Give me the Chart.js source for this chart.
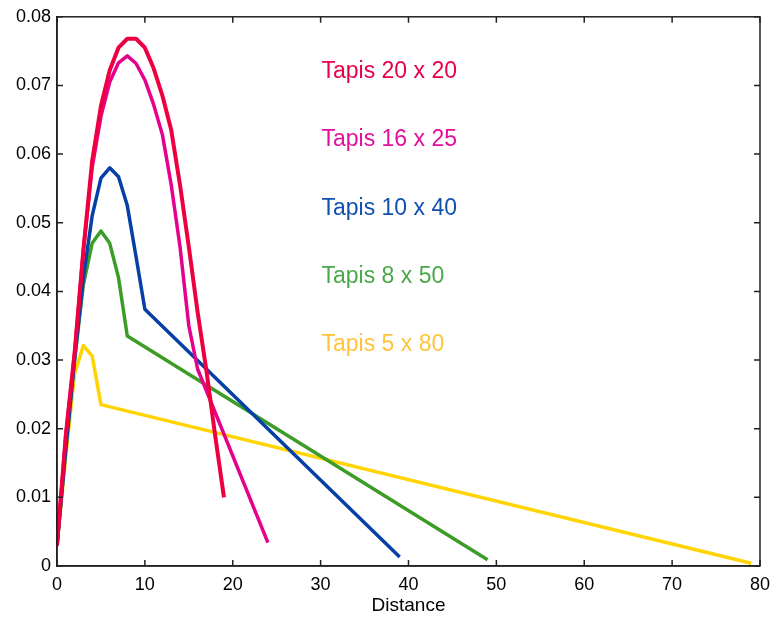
<!DOCTYPE html>
<html>
<head>
<meta charset="utf-8">
<title>Tapis - Distance</title>
<script src="https://cdn.jsdelivr.net/npm/chart.js@4.4.0/dist/chart.umd.min.js"></script>
<style>
    html, body { margin: 0; padding: 0; background: #fff; }
    #wrap { width: 778px; height: 617px; }
</style>
</head>
<body>
<div id="wrap"><canvas id="distanceChart" width="778" height="617"></canvas></div>
<script>
// Series names, drawn as coloured labels inside the plot
const seriesNames = ['Tapis 20 x 20', 'Tapis 16 x 25', 'Tapis 10 x 40', 'Tapis 8 x 50', 'Tapis 5 x 80'];

// Tapis 20 x 20
const dist20x20 = [0, 1, 2, 3, 4, 5, 6, 7, 8, 9, 10, 11, 12, 13, 14, 15, 16, 17, 18, 19];
const val20x20 = [0.003, 0.019, 0.031, 0.046, 0.059, 0.067, 0.0722, 0.0755, 0.0768, 0.0768,
                  0.0755, 0.0725, 0.0685, 0.0635, 0.0555, 0.0465, 0.037, 0.0285, 0.019, 0.010];

// Tapis 16 x 25
const dist16x25 = [0, 1, 2, 3, 4, 5, 6, 7, 8, 9, 10, 11, 12, 13, 14, 15, 16, 24];
const val16x25 = [0.003, 0.019, 0.031, 0.046, 0.058, 0.0655, 0.0705, 0.0733, 0.0743, 0.0732,
                  0.0708, 0.0672, 0.0628, 0.0555, 0.0465, 0.035, 0.0287, 0.0034];

// Tapis 10 x 40
const dist10x40 = [0, 1, 2, 3, 4, 5, 6, 7, 8, 9, 10, 39];
const val10x40 = [0.003, 0.017, 0.030, 0.042, 0.051, 0.0565, 0.058, 0.0567, 0.0525, 0.045, 0.0374, 0.0013];

// Tapis 8 x 50
const dist8x50 = [0, 1, 2, 3, 4, 5, 6, 7, 8, 49];
const val8x50 = [0.003, 0.017, 0.030, 0.041, 0.047, 0.0488, 0.047, 0.042, 0.0335, 0.0009];

// Tapis 5 x 80
const dist5x80 = [0, 1, 2, 3, 4, 5, 79];
const val5x80 = [0.003, 0.016, 0.028, 0.0321, 0.0306, 0.0235, 0.0004];

// Axis ticks
const xTicks = [0, 10, 20, 30, 40, 50, 60, 70, 80];
const xTickLabels = ['0', '10', '20', '30', '40', '50', '60', '70', '80'];
const yTicks = [0, 0.01, 0.02, 0.03, 0.04, 0.05, 0.06, 0.07, 0.08];
const yTickLabels = ['0', '0.01', '0.02', '0.03', '0.04', '0.05', '0.06', '0.07', '0.08'];

const lineColors = ['#ee0040', '#e6008e', '#0640a6', '#3c9c28', '#ffd400'];
const textColors = ['#ea0048', '#e2109a', '#1250b0', '#4aa84a', '#ffc43a'];

function toPoints(xs, ys) {
    return xs.map((x, i) => ({ x: x, y: ys[i] }));
}

// Box frame, inward tick marks and the series labels
const frameAndLabels = {
    id: 'frameAndLabels',
    afterDatasetsDraw(chart) {
        const ctx = chart.ctx;
        const area = chart.chartArea;
        const xScale = chart.scales.x;
        const yScale = chart.scales.y;
        const tickLen = 6;

        ctx.save();
        ctx.strokeStyle = '#222';
        ctx.lineWidth = 1.5;
        ctx.strokeRect(area.left, area.top, area.right - area.left, area.bottom - area.top);

        ctx.beginPath();
        xTicks.forEach(v => {
            const px = xScale.getPixelForValue(v);
            ctx.moveTo(px, area.bottom);
            ctx.lineTo(px, area.bottom - tickLen);
            ctx.moveTo(px, area.top);
            ctx.lineTo(px, area.top + tickLen);
        });
        yTicks.forEach(v => {
            const py = yScale.getPixelForValue(v);
            ctx.moveTo(area.left, py);
            ctx.lineTo(area.left + tickLen, py);
            ctx.moveTo(area.right, py);
            ctx.lineTo(area.right - tickLen, py);
        });
        ctx.stroke();

        ctx.font = '23px "Liberation Sans", Arial, sans-serif';
        ctx.textAlign = 'left';
        ctx.textBaseline = 'alphabetic';
        const lx = xScale.getPixelForValue(30.1);
        seriesNames.forEach((name, i) => {
            ctx.fillStyle = textColors[i];
            ctx.fillText(name, lx, yScale.getPixelForValue(0.0711 - i * 0.00995));
        });
        ctx.restore();
    }
};

const allDist = [dist20x20, dist16x25, dist10x40, dist8x50, dist5x80];
const allVal = [val20x20, val16x25, val10x40, val8x50, val5x80];

const datasets = seriesNames.map((name, i) => ({
    label: name,
    data: toPoints(allDist[i], allVal[i]),
    borderColor: lineColors[i],
    borderWidth: i === 0 ? 4 : 3.5,
    pointRadius: 0,
    tension: 0,
    fill: false,
    borderJoinStyle: 'round',
    borderCapStyle: 'butt'
}));

const tickFont = { family: '"Liberation Sans", Arial, sans-serif', size: 18 };

new Chart(document.getElementById('distanceChart').getContext('2d'), {
    type: 'line',
    data: { datasets: datasets },
    options: {
        responsive: false,
        animation: false,
        devicePixelRatio: 1,
        layout: { padding: { top: 15, right: 15, left: 0, bottom: 0 } },
        plugins: {
            legend: { display: false },
            tooltip: { enabled: false }
        },
        scales: {
            x: {
                type: 'linear',
                min: 0,
                max: 80,
                grid: { display: false, drawTicks: false },
                border: { display: true, color: '#222', width: 1.5 },
                afterBuildTicks: scale => { scale.ticks = xTicks.map(v => ({ value: v })); },
                afterFit: scale => { scale.height = 51; },
                ticks: {
                    color: '#000',
                    font: tickFont,
                    padding: 8,
                    maxRotation: 0,
                    callback: (value, index) => xTickLabels[index]
                },
                title: {
                    display: true,
                    text: 'Distance',
                    color: '#000',
                    font: { family: '"Liberation Sans", Arial, sans-serif', size: 19 },
                    padding: { top: 0, bottom: 0 }
                }
            },
            y: {
                type: 'linear',
                min: 0,
                max: 0.08,
                grid: { display: false, drawTicks: false },
                border: { display: true, color: '#222', width: 1.5 },
                afterBuildTicks: scale => { scale.ticks = yTicks.map(v => ({ value: v })); },
                afterFit: scale => { scale.width = 57; },
                ticks: {
                    color: '#000',
                    font: tickFont,
                    padding: 6,
                    callback: (value, index) => yTickLabels[index]
                }
            }
        }
    },
    plugins: [frameAndLabels]
});
</script>
</body>
</html>
